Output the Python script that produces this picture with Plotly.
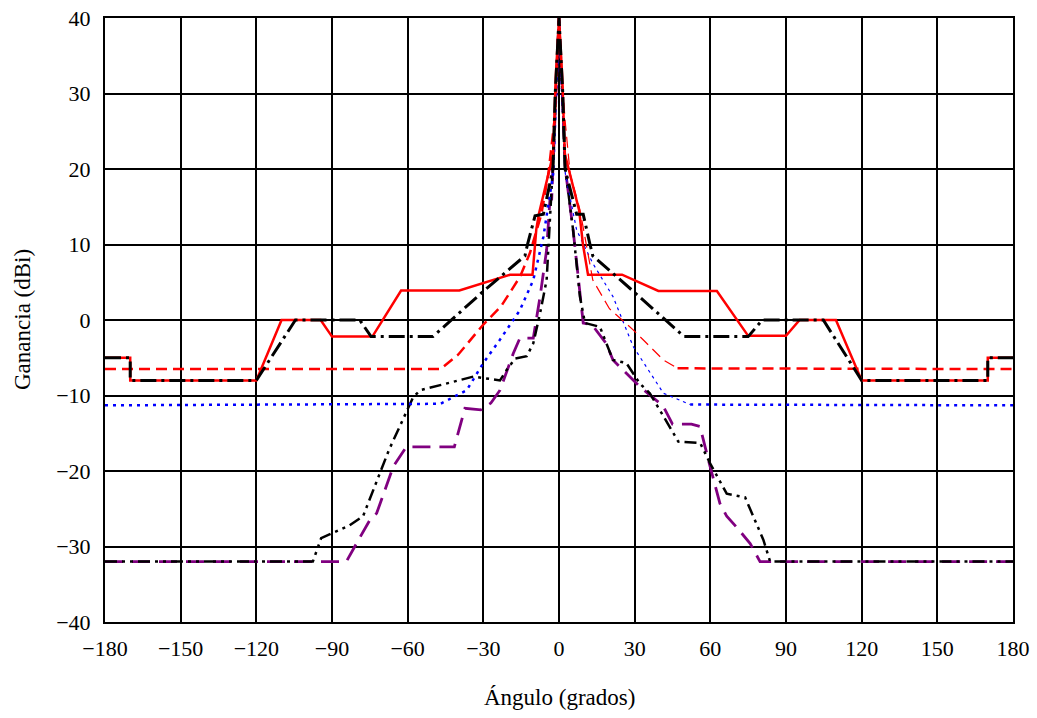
import plotly.graph_objects as go

# Red solid
red_solid_x = [-180, -170, -170, -120, -110, -94.5, -90, -74, -62.6, -39.5, -19.4, -10.5, -9, -8, -2.3, -1.3, 0,
               1.3, 2.3, 8, 9.5, 11.5, 25, 39.4, 62.6, 75, 90, 95.4, 109.8, 120, 170, 170, 180]
red_solid_y = [-5, -5, -8, -8, 0, 0, -2.2, -2.2, 3.9, 3.9, 6, 6, 12, 14, 22, 32, 40,
               32, 22, 14.5, 10, 6, 6, 3.85, 3.85, -2.1, -2.1, 0, 0, -8, -8, -5, -5]

# Black long-dash-dot
blk_dd_x = [-180, -170, -170, -120, -104.5, -79, -74.5, -50, -30, -13.5, -12.5, -9.5, -6.2, -2.4, -1.5, 0,
            1.5, 2.4, 7, 9.6, 12.3, 13.4, 29.3, 49.6, 75, 80.6, 104.8, 120, 170, 170, 180]
blk_dd_y = [-5, -5, -8, -8, 0, 0, -2.2, -2.2, 3.8, 8.5, 10, 13.8, 14, 20, 30, 40,
            30, 20, 14, 14, 10, 8.5, 3.85, -2.2, -2.2, 0, 0, -8, -8, -5, -5]

# Red dashed
red_dash_x = [-180, -47, -40, -30, -23, -15.5, -11.5, -7, -4.2, -1.6, -0.8, 0,
              0.8, 2.4, 4.4, 8.3, 13.4, 20, 29.4, 41.4, 47, 180]
red_dash_y = [-6.5, -6.5, -4.6, -0.6, 1.8, 5.7, 8.9, 14, 19.4, 27, 34, 40,
              34, 26.5, 19.4, 14.6, 5.3, 1.5, -1.3, -5.3, -6.4, -6.5]

# Blue dotted
blue_x = [-180, -47, -36.6, -30, -23.4, -15.5, -10.2, -6.2, -2.3, -1, 0,
          1, 2.5, 7, 13.4, 21.4, 29.4, 41.4, 52, 180]
blue_y = [-11.3, -11.1, -9.3, -5.7, -2.6, 1.3, 5.3, 11, 19.4, 30, 40,
          30, 19.4, 11.9, 7.5, 3.1, -3.5, -9.7, -11.2, -11.3]

# Black dash-dot-dot
blk_ddd_x = [-180, -97.6, -94.3, -83, -77.7, -67.4, -57.8, -55, -34, -23.4, -20.7, -17.4, -12.8, -10.2, -7.5, -4.9, -2.5, -1.3, 0,
             1.3, 2.5, 5.6, 8.3, 10.3, 16.2, 21.4, 26.7, 32, 36, 39.9, 47.3, 56, 59.9, 66.5, 73.8, 81, 83.7, 180]
blk_ddd_y = [-32, -32, -28.9, -27.2, -26, -17.2, -10.2, -9.3, -7.5, -8, -6.6, -5.1, -4.8, -3.1, 0.9, 5.3, 20, 30, 40,
             30, 20, 11.9, 3.1, -0.4, -0.9, -5.3, -5.7, -8.4, -9.7, -11.9, -16.1, -16.3, -19, -23, -23.5, -29.1, -32, -32]

# Purple long dash
purple_x = [-180, -84.3, -80.3, -75, -72.3, -65.7, -60.5, -41.5, -37.3, -31, -27, -23.4, -18.1, -15.5, -10.2, -7.5, -4.9, -3.6, -2.9, -1.3, 0,
            1.3, 2.5, 5.6, 9.6, 13, 18.7, 21.4, 32, 41.3, 45, 52.5, 55.9, 59.9, 63.8, 66.5, 70.3, 75.8, 79.7, 180]
purple_y = [-32, -32, -29.6, -26.5, -25.6, -19.4, -16.8, -16.8, -11.7, -11.9, -11, -9.3, -4.4, -2.4, -2.4, 3.1, 9.3, 15.9, 16, 30, 40,
            30, 20, 11.9, -0.4, -0.6, -3.1, -5.3, -8.8, -11.4, -13.8, -13.8, -14.1, -19.4, -24.3, -26, -27.4, -29.6, -32, -32]

x_ticks = [-180, -150, -120, -90, -60, -30, 0, 30, 60, 90, 120, 150, 180]
y_ticks = [-40, -30, -20, -10, 0, 10, 20, 30, 40]
x_title = "Ángulo (grados)"
y_title = "Ganancia (dBi)"


def split(xs, ys, lo, hi):
    left = [(x, y) for x, y in zip(xs, ys) if x <= lo]
    mid = [(x, y) for x, y in zip(xs, ys) if lo <= x <= hi]
    right = [(x, y) for x, y in zip(xs, ys) if x >= hi]
    return left, mid, right


fig = go.Figure()


def add(xs, ys, color, width, dash):
    fig.add_trace(go.Scatter(x=list(xs), y=list(ys), mode="lines",
                             line=dict(color=color, width=width, dash=dash),
                             showlegend=False, hoverinfo="skip"))


add(purple_x, purple_y, "#800080", 2.8, "18px,9px")
add(blk_ddd_x, blk_ddd_y, "black", 2.5, "12px,5px,3px,5px,3px,5px")

l, m, r = split(blue_x, blue_y, 0, 52)
add([p[0] for p in l], [p[1] for p in l], "#0000ff", 2.5, "3px,5px")
add([p[0] for p in m], [p[1] for p in m], "#0000ff", 1.2, "3px,4px")
add([p[0] for p in r], [p[1] for p in r], "#0000ff", 2.5, "3px,5px")

l, m, r = split(red_dash_x, red_dash_y, 0, 47)
add([p[0] for p in l], [p[1] for p in l], "#ff0000", 2.5, "11px,6px")
add([p[0] for p in m], [p[1] for p in m], "#ff0000", 1.2, "11px,6px")
add([p[0] for p in r], [p[1] for p in r], "#ff0000", 2.5, "11px,6px")

add(red_solid_x, red_solid_y, "#ff0000", 2.5, "solid")
add(blk_dd_x, blk_dd_y, "black", 3, "16px,5px,3px,5px")

# plot area at x 105..1013, y 18..622 (body margin removed below)
L, R, T, B = 105, 1037 - 1013, 18, 718 - 622
plot_w = 1037 - L - R
plot_h = 718 - T - B

font = "Liberation Serif, Times New Roman, serif"
axis_common = dict(showgrid=True, gridcolor="black", gridwidth=2, zeroline=False,
                   showline=True, linecolor="black", linewidth=2, mirror=True,
                   ticks="outside", ticklen=0, automargin=False, ticklabeloverflow="allow",
                   tickfont=dict(family=font, size=22, color="black"))
fig.update_layout(
    template="none",
    width=1037, height=718,
    margin=dict(l=L, r=R, t=T, b=B, autoexpand=False),
    paper_bgcolor="white", plot_bgcolor="white",
    font=dict(family=font, size=22, color="black"),
    xaxis=dict(range=[-180, 180], tickvals=x_ticks, ticklabelstandoff=6, **axis_common),
    yaxis=dict(range=[-40, 40], tickvals=y_ticks, ticklabelstandoff=8, **axis_common),
)
fig.add_annotation(text=x_title, x=0.5, y=-(697 - 622) / plot_h, xref="paper", yref="paper",
                   showarrow=False, font=dict(family=font, size=23),
                   xanchor="center", yanchor="middle")
fig.add_annotation(text=y_title, x=-(105 - 22) / plot_w, y=0.5, xref="paper", yref="paper",
                   showarrow=False, textangle=-90, font=dict(family=font, size=23),
                   xanchor="center", yanchor="middle")

fig.write_html("out.html", config={"displayModeBar": False},
               post_script="document.body.style.margin='0';document.body.style.overflow='hidden';")
